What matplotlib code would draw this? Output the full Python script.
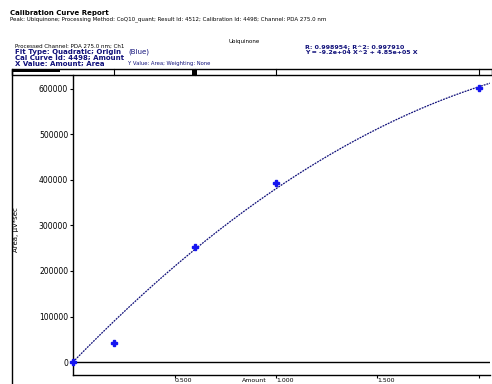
import numpy as np
import matplotlib
matplotlib.use("Agg")
import matplotlib.pyplot as plt
from matplotlib.transforms import blended_transform_factory
from matplotlib.patches import Rectangle

# ---- data ----
amounts = [0.0, 0.2, 0.6, 1.0, 2.0]
areas = [0, 42000, 253000, 393000, 602000]
x_ticks = [0.5, 1.0, 1.5, 2.0]
x_tick_labels = ["0.500", "1.000", "1.500", ""]
y_ticks = [0, 100000, 200000, 300000, 400000, 500000, 600000]
y_tick_labels = ["0", "100000", "200000", "300000", "400000", "500000", "600000"]

W, H = 492, 384
fig = plt.figure(figsize=(W / 100, H / 100), dpi=100)

def fx(p):
    return p / W

def fy(p):
    return 1 - p / H

NAVY = "#10107a"

# header texts
fig.text(fx(10), fy(13), "Calibration Curve Report", fontsize=5, fontweight="bold", va="center", ha="left")
fig.text(fx(10), fy(19), "Peak: Ubiquinone; Processing Method: CoQ10_quant; Result Id: 4512; Calibration Id: 4498; Channel: PDA 275.0 nm",
         fontsize=4, va="center", ha="left")
fig.text(fx(244), fy(41), "Ubiquinone", fontsize=4, va="center", ha="center")
fig.text(fx(15), fy(46), "Processed Channel: PDA 275.0 nm; Ch1", fontsize=4, va="center", ha="left")
fig.text(fx(15), fy(52), "Fit Type: Quadratic; Origin", fontsize=5, fontweight="bold", color=NAVY, va="center", ha="left")
fig.text(fx(128), fy(52), "(Blue)", fontsize=5, color=NAVY, va="center", ha="left")
fig.text(fx(15), fy(58), "Cal Curve Id: 4498; Amount", fontsize=5, fontweight="bold", color=NAVY, va="center", ha="left")
fig.text(fx(15), fy(64), "X Value: Amount; Area", fontsize=5, fontweight="bold", color=NAVY, va="center", ha="left")
fig.text(fx(128), fy(64), "Y Value: Area; Weighting: None", fontsize=3.8, color=NAVY, va="center", ha="left")
fig.text(fx(305), fy(47), "R: 0.998954; R^2: 0.997910", fontsize=4.5, fontweight="bold", color=NAVY, va="center", ha="left")
fig.text(fx(305), fy(52), "Y = -9.2e+04 X^2 + 4.85e+05 X", fontsize=4.5, fontweight="bold", color=NAVY, va="center", ha="left")

# main axes
L, R, T, B = 73, 490, 75, 375
ax = fig.add_axes([fx(L), fy(B), (R - L) / W, (B - T) / H])
px_per_x = 203.0
px_per_y = 45.5 / 100000
ax.set_xlim(0, (R - L) / px_per_x)
ax.set_ylim(-(B - 362) / px_per_y, (362 - T) / px_per_y)

# quadratic fit through origin
xa = np.array(amounts)
ya = np.array(areas, dtype=float)
A = np.column_stack([xa, xa ** 2])
coef, *_ = np.linalg.lstsq(A, ya, rcond=None)
xx = np.linspace(0, ax.get_xlim()[1], 300)
yy = coef[0] * xx + coef[1] * xx ** 2
ax.plot(xx, yy, color=NAVY, lw=0.9, ls=(0, (1.5, 0.8)), zorder=2)
ax.plot(amounts, areas, ls="none", marker="P", ms=5, color="#1515f0", mec="#1515f0", zorder=3, clip_on=False)

ax.axhline(0, color="black", lw=1.0, zorder=1)

for s in ["top", "right"]:
    ax.spines[s].set_visible(False)
for s in ["left", "bottom"]:
    ax.spines[s].set_linewidth(1.0)

ax.set_yticks(y_ticks)
ax.set_yticklabels(y_tick_labels, fontsize=5.5)
ax.set_xticks(x_ticks)
ax.set_xticklabels(x_tick_labels, fontsize=4.5, ha="left")
ax.tick_params(axis="y", length=2, width=0.8, pad=1.5)
ax.tick_params(axis="x", length=2, width=0.8, pad=0.3)

fig.text(fx(254), fy(381), "Amount", fontsize=4.5, ha="center", va="center")
fig.text(fx(16), fy(230), "Area, \u00b5V*sec", fontsize=5, rotation=90, ha="center", va="center")

# outer frame left line
fig.add_artist(plt.Line2D([fx(12), fx(12)], [fy(69), fy(384)], color="black", lw=1.0, transform=fig.transFigure))

# top strip
strip = fig.add_axes([fx(12), fy(75), (W - 12) / W, 6 / H])
strip.set_axis_off()
strip.add_patch(Rectangle((0, 0), 1, 1, transform=strip.transAxes, fill=False, ec="black", lw=1.0, clip_on=False))
strip.add_patch(Rectangle((0, 0.45), (60 - 12) / (W - 12), 0.55, transform=strip.transAxes, fc="black", ec="none"))
bt = blended_transform_factory(ax.transData, strip.transAxes)
for xv in amounts[1:]:
    strip.plot([xv, xv], [0.0, 1.0], color="black", lw=0.8, transform=bt, clip_on=False)
strip.add_patch(Rectangle((amounts[2] - 0.012, 0.0), 0.024, 1.0, transform=bt, fc="black", ec="none"))

fig.savefig("out.png", dpi=100)
